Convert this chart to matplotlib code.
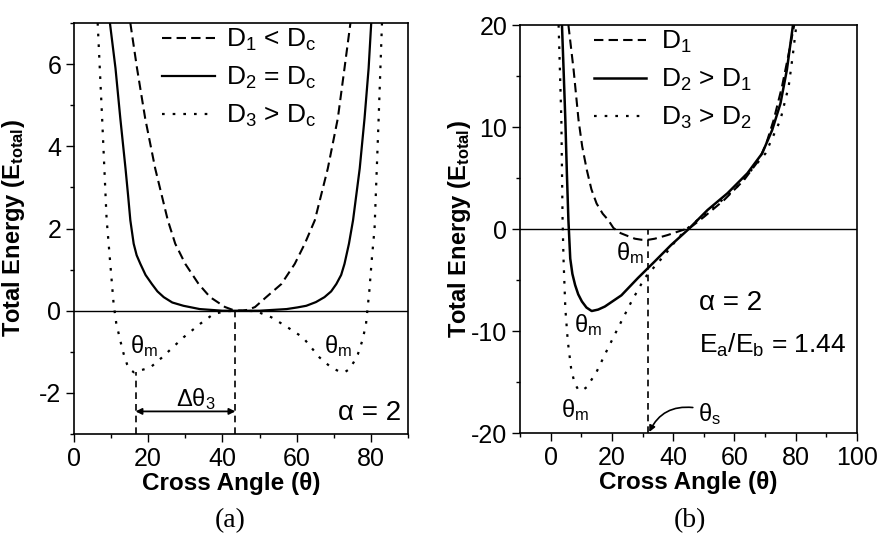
import matplotlib
matplotlib.use("Agg")
import matplotlib.pyplot as plt
from matplotlib.ticker import MultipleLocator

plt.rcParams['font.family'] = ['Liberation Sans', 'DejaVu Sans']
plt.rcParams['mathtext.fontset'] = 'custom'
plt.rcParams['mathtext.rm'] = 'Liberation Sans'
plt.rcParams['mathtext.it'] = 'Liberation Sans:italic'
plt.rcParams['mathtext.bf'] = 'Liberation Sans:bold'
plt.rcParams['axes.unicode_minus'] = False

# ---- panel (a) data: total energy vs cross angle ----
a_d1_x = [15.2, 17.0, 19.2, 21.9, 25.3, 27.3, 30.0, 33.6, 36.7, 40.7, 42.8, 44.8,
          46.8, 48.8, 51.8, 55.9, 59.5, 62.2, 64.9, 68.4, 71.1, 72.9, 74.5]
a_d1_y = [7.0, 5.9, 4.68, 3.46, 2.2, 1.63, 1.14, 0.65, 0.33, 0.09, 0.02, 0.0,
          0.02, 0.09, 0.33, 0.65, 1.14, 1.63, 2.2, 3.46, 4.68, 5.9, 7.0]

a_d2_x = [9.7, 11.2, 12.5, 13.9, 14.6, 15.2, 16.1, 16.9, 17.9, 19.3, 21.0, 22.5, 24.2,
          26.5, 29.5, 33.9, 40.0, 45.0, 50.0, 57.3, 60.2, 62.6, 65.2, 67.5, 69.3, 70.7,
          72.0, 72.9, 74.1, 75.2, 77.0, 78.3, 79.4, 80.1]
a_d2_y = [7.0, 5.9, 4.68, 3.46, 2.8, 2.2, 1.63, 1.35, 1.14, 0.87, 0.65, 0.47, 0.33,
          0.2, 0.12, 0.04, 0.0, 0.0, 0.0, 0.04, 0.08, 0.12, 0.21, 0.33, 0.47, 0.65,
          0.87, 1.14, 1.63, 2.2, 3.46, 4.68, 5.9, 7.0]

a_d3_x = [6.4, 7.6, 8.8, 9.8, 10.7, 11.4, 12.5, 13.4, 14.3, 15.2, 16.2, 18.0, 20.6,
          23.7, 29.5, 34.0, 37.6, 41.0, 45.0, 49.0, 53.2, 57.5, 61.7, 66.2, 69.3, 71.3,
          72.9, 74.2, 75.4, 76.5, 77.8, 78.7, 79.6, 80.3, 81.0, 82.1, 83.0]
a_d3_y = [7.0, 4.68, 2.24, 1.14, 0.16, -0.3, -0.73, -1.05, -1.3, -1.44, -1.5, -1.45,
          -1.38, -1.14, -0.65, -0.32, -0.08, -0.01, 0.0, -0.01, -0.16, -0.4, -0.65, -1.14,
          -1.38, -1.47, -1.5, -1.42, -1.25, -1.06, -0.7, -0.32, 0.49, 1.3, 2.0, 4.68, 7.0]

a_labels = [r'D$_1$ < D$_\mathrm{c}$', r'D$_2$ = D$_\mathrm{c}$', r'D$_3$ > D$_\mathrm{c}$']
a_theta_m3 = 16.6
a_theta_c = 43.5
a_emin3 = -1.5

# ---- panel (b) data ----
b_d1_x = [5.8, 7.5, 9.1, 10.3, 11.8, 13.3, 15.0, 17.0, 18.8, 20.5, 22.8, 25.3, 27.5,
          29.6, 32.0, 34.0, 38.2, 42.6, 45.4, 50.1, 56.6, 63.1, 68.0, 70.4, 72.8, 75.5,
          77.7, 79.5]
b_d1_y = [20.0, 15.6, 10.7, 8.1, 5.8, 3.9, 2.5, 1.5, 0.88, 0.1, -0.4, -0.7, -0.95,
          -1.05, -1.05, -0.95, -0.59, -0.15, 0.1, 1.2, 2.84, 4.8, 6.76, 8.4, 10.7, 13.95,
          17.2, 20.0]

b_d2_x = [3.7, 4.3, 4.8, 5.3, 5.8, 6.4, 7.1, 8.0, 9.0, 10.2, 11.7, 13.4, 15.5, 17.7,
          23.1, 28.5, 33.9, 39.3, 44.7, 51.2, 57.7, 64.2, 69.0, 72.3, 75.0, 77.1, 79.1]
b_d2_y = [20.0, 15.0, 10.7, 5.5, 0.88, -2.9, -4.4, -5.5, -6.4, -7.1, -7.7, -8.04, -7.9,
          -7.6, -6.5, -4.8, -3.2, -1.57, -0.1, 1.86, 3.5, 5.46, 7.4, 9.7, 12.3, 15.6, 20.0]

b_d3_x = [2.6, 3.5, 3.9, 4.2, 4.8, 5.6, 6.7, 7.8, 9.1, 10.4, 11.8, 15.0, 18.2, 22.0,
          26.4, 30.7, 37.2, 41.5, 45.5, 52.8, 60.9, 70.1, 75.0, 77.7, 79.1, 80.2]
b_d3_y = [20.0, 10.7, 0.88, -2.9, -7.8, -11.0, -13.7, -15.1, -15.8, -15.8, -15.5, -14.0,
          -12.0, -9.7, -7.1, -4.8, -2.55, -0.9, 0.3, 2.0, 4.15, 7.4, 10.7, 14.0, 17.2, 20.0]

b_labels = [r'D$_1$', r'D$_2$ > D$_1$', r'D$_3$ > D$_2$']
b_theta_s = 31.8

DASH = (0, (4.5, 2.5))
DOT = (0, (1.2, 3.6))

fig = plt.figure(figsize=(8.8, 5.56), dpi=100)
ax1 = fig.add_axes([0.084, 0.2194, 0.3796, 0.7392])
ax2 = fig.add_axes([0.5909, 0.2212, 0.383, 0.7338])


def style_axes(ax):
    ax.tick_params(which='both', direction='out', top=False, right=False,
                   labelsize=18, width=1.0, pad=3)
    ax.tick_params(which='major', length=6)
    ax.tick_params(which='minor', length=3)
    for s in ax.spines.values():
        s.set_linewidth(1.2)
    ax.axhline(0, color='black', lw=1.0, zorder=1)
    ax.set_xlabel('Cross Angle (θ)', fontsize=17.5, fontweight='bold')
    ax.set_ylabel(r'Total Energy (E$_\mathbf{total}$)', fontsize=17, fontweight='bold')


# ---------- panel (a) ----------
l1, = ax1.plot(a_d1_x, a_d1_y, color='black', lw=1.5, linestyle=DASH)
l2, = ax1.plot(a_d2_x, a_d2_y, color='black', lw=1.6)
l3, = ax1.plot(a_d3_x, a_d3_y, color='black', lw=1.6, linestyle=DOT)
ax1.set_xlim(0, 90)
ax1.set_ylim(-3, 7)
ax1.xaxis.set_major_locator(MultipleLocator(20))
ax1.xaxis.set_minor_locator(MultipleLocator(10))
ax1.yaxis.set_major_locator(MultipleLocator(2))
ax1.yaxis.set_minor_locator(MultipleLocator(1))
style_axes(ax1)

ax1.plot([a_theta_m3, a_theta_m3], [-3, a_emin3], color='black', lw=1.2, linestyle=(0, (4, 3)))
ax1.plot([a_theta_c, a_theta_c], [-3, 0], color='black', lw=1.2, linestyle=(0, (4, 3)))
ax1.annotate('', xy=(a_theta_m3, -2.45), xytext=(a_theta_c, -2.45),
             arrowprops=dict(arrowstyle='<|-|>', color='black', lw=1.3,
                             mutation_scale=9, shrinkA=0, shrinkB=0))
ax1.text(32.7, -2.15, 'Δθ$_3$', fontsize=17, ha='center', va='center')
ax1.text(18.8, -0.85, r'θ$_\mathrm{m}$', fontsize=17, ha='center', va='center')
ax1.text(71.1, -0.85, r'θ$_\mathrm{m}$', fontsize=17, ha='center', va='center')
ax1.text(88.1, -2.48, 'α = 2', fontsize=20, ha='right', va='center')

ax1.legend([l1, l2, l3], a_labels, loc='upper left', bbox_to_anchor=(0.263, 0.99),
           frameon=False, fontsize=19, handlelength=2.0, handletextpad=0.44,
           labelspacing=0.45, borderpad=0, borderaxespad=0)

# ---------- panel (b) ----------
m1, = ax2.plot(b_d1_x, b_d1_y, color='black', lw=1.5, linestyle=DASH)
m2, = ax2.plot(b_d2_x, b_d2_y, color='black', lw=1.8)
m3, = ax2.plot(b_d3_x, b_d3_y, color='black', lw=1.6, linestyle=DOT)
ax2.set_xlim(-10, 100)
ax2.set_ylim(-20, 20)
ax2.xaxis.set_major_locator(MultipleLocator(20))
ax2.xaxis.set_minor_locator(MultipleLocator(10))
ax2.yaxis.set_major_locator(MultipleLocator(10))
ax2.yaxis.set_minor_locator(MultipleLocator(5))
style_axes(ax2)

ax2.plot([b_theta_s, b_theta_s], [-20, 0], color='black', lw=1.2, linestyle=(0, (4, 3)))
ax2.text(25.8, -2.4, r'θ$_\mathrm{m}$', fontsize=17, ha='center', va='center')
ax2.text(12.3, -9.4, r'θ$_\mathrm{m}$', fontsize=17, ha='center', va='center')
ax2.text(8.0, -17.7, r'θ$_\mathrm{m}$', fontsize=17, ha='center', va='center')
ax2.text(51.8, -18.1, r'θ$_\mathrm{s}$', fontsize=17, ha='center', va='center')
ax2.annotate('', xy=(b_theta_s + 0.4, -19.9), xytext=(46.4, -17.5),
             arrowprops=dict(arrowstyle='-|>', color='black', lw=1.2, mutation_scale=9,
                             connectionstyle='arc3,rad=0.35', shrinkA=0, shrinkB=0))
ax2.text(48.5, -7.3, 'α = 2', fontsize=20, ha='left', va='center')
ax2.text(48.5, -11.4, r'E$_\mathrm{a}$/E$_\mathrm{b}$ = 1.44', fontsize=19, ha='left', va='center')

ax2.legend([m1, m2, m3], b_labels, loc='upper left', bbox_to_anchor=(0.22, 0.99),
           frameon=False, fontsize=19, handlelength=1.97, handletextpad=0.57,
           labelspacing=0.45, borderpad=0, borderaxespad=0)

ax1.xaxis.set_label_coords(0.47, -0.092)
ax2.xaxis.set_label_coords(0.5, -0.092)
ax1.yaxis.set_label_coords(-0.14, 0.5)
ax2.yaxis.set_label_coords(-0.14, 0.5)

fig.text(0.262, 0.063, '(a)', fontsize=20, family='Liberation Serif', ha='center', va='center')
fig.text(0.784, 0.063, '(b)', fontsize=20, family='Liberation Serif', ha='center', va='center')

fig.savefig('out.png', dpi=100)
